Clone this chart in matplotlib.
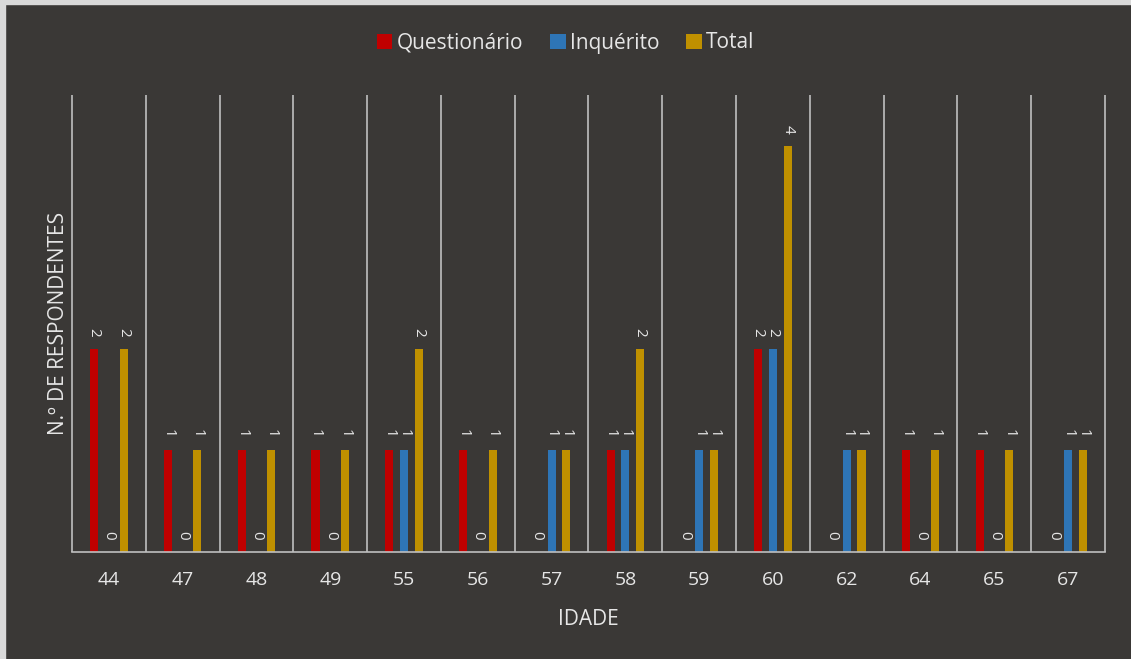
import matplotlib.pyplot as plt
from matplotlib import patches
import numpy as np

# Idades e número de respondentes
idades = ['44', '47', '48', '49', '55', '56', '57', '58', '59', '60', '62', '64', '65', '67']
questionario = [2, 1, 1, 1, 1, 1, 0, 1, 0, 2, 0, 1, 1, 0]
inquerito = [0, 0, 0, 0, 1, 0, 1, 1, 1, 2, 1, 0, 0, 1]
total = [2, 1, 1, 1, 2, 1, 1, 2, 1, 4, 1, 1, 1, 1]

series = [('Questionário', questionario, '#C00000'),
          ('Inquérito', inquerito, '#2E75B6'),
          ('Total', total, '#BF9000')]

bg = '#3A3836'
txt = '#E6E6E6'
grid = '#BFBFBF'

plt.rcParams['font.family'] = ['Open Sans', 'DejaVu Sans']

fig = plt.figure(figsize=(11.31, 6.59), dpi=100, facecolor=bg)
# thin light frame on the left and top edges
fig.patches.append(patches.Rectangle((0, 0), 5 / 1131, 1, transform=fig.transFigure,
                                     color='#D9D9D9', zorder=-1))
fig.patches.append(patches.Rectangle((0, 1 - 4 / 659), 1, 4 / 659, transform=fig.transFigure,
                                     color='#D9D9D9', zorder=-1))

ax = fig.add_axes([72 / 1131, 107 / 659, 1033 / 1131, 457 / 659])
ax.set_facecolor(bg)

x = np.arange(len(idades))
width = 0.11
step = 0.2

for k, (name, vals, color) in enumerate(series):
    pos = x + (k - 1) * step
    ax.bar(pos, vals, width, color=color, label=name, zorder=2)
    for px, v in zip(pos, vals):
        ax.annotate(str(v), (px, v), xytext=(0, 9), textcoords='offset points',
                    rotation=-90, ha='center', va='bottom', color=txt, fontsize=11)

ax.set_xlim(-0.5, len(idades) - 0.5)
ax.set_ylim(0, 4.5)

# vertical lines between categories
ax.vlines(np.arange(len(idades) + 1) - 0.5, 0, 4.5, colors=grid, linewidth=1.2,
          zorder=1, clip_on=False)

for s in ['top', 'left', 'right']:
    ax.spines[s].set_visible(False)
ax.spines['bottom'].set_color(grid)
ax.spines['bottom'].set_linewidth(1.2)

ax.set_yticks([])
ax.set_xticks(x)
ax.set_xticklabels(idades, color=txt, fontsize=14)
ax.tick_params(axis='x', length=0, pad=14)

ax.set_xlabel('IDADE', color=txt, fontsize=15, labelpad=14)
ax.set_ylabel('N.º DE RESPONDENTES', color=txt, fontsize=15, labelpad=2)

fig.legend(loc='center', bbox_to_anchor=(0.5, 1 - 43 / 659), ncol=3, frameon=False,
           labelcolor=txt, fontsize=15, handlelength=0.75, handleheight=0.75,
           handletextpad=0.2, columnspacing=1.3)

fig.savefig('out.png', dpi=100, facecolor=bg)
